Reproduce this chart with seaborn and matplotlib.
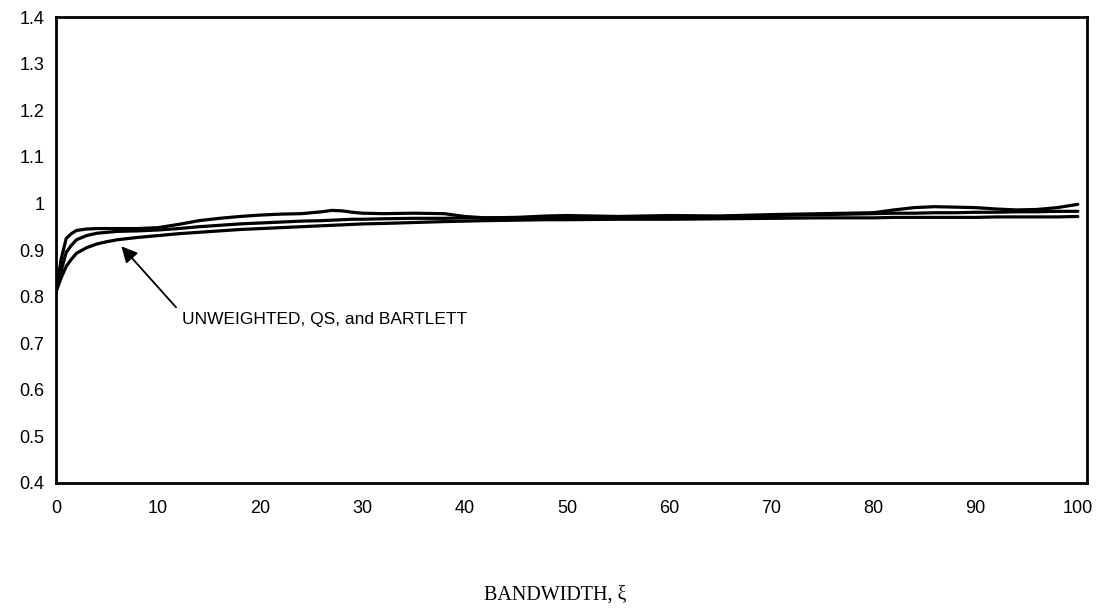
import matplotlib
matplotlib.use("Agg")
import matplotlib.pyplot as plt
from matplotlib.ticker import MultipleLocator
import seaborn as sns
import pandas as pd

bandwidth = [0, 0.5, 1, 1.5, 2, 3, 4, 5, 6, 8, 10, 12, 14, 16, 18, 20, 22, 24, 26, 27,
             28, 29, 30, 32, 35, 38, 40, 42, 45, 48, 50, 55, 60, 65, 70, 75, 80, 82, 84,
             86, 88, 90, 92, 94, 96, 98, 100]

unweighted = [0.81, 0.88, 0.925, 0.935, 0.942, 0.945, 0.946, 0.946, 0.946, 0.946, 0.948,
              0.955, 0.963, 0.968, 0.972, 0.975, 0.977, 0.978, 0.982, 0.985, 0.984, 0.981,
              0.979, 0.978, 0.979, 0.978, 0.972, 0.969, 0.970, 0.973, 0.974, 0.972, 0.974,
              0.973, 0.976, 0.978, 0.980, 0.986, 0.991, 0.993, 0.992, 0.991, 0.988, 0.986,
              0.987, 0.991, 0.998]

qs = [0.81, 0.855, 0.895, 0.91, 0.922, 0.931, 0.936, 0.938, 0.94, 0.941, 0.943, 0.946,
      0.95, 0.953, 0.956, 0.958, 0.96, 0.962, 0.963, 0.964, 0.965, 0.966, 0.966, 0.967,
      0.968, 0.968, 0.969, 0.969, 0.969, 0.97, 0.97, 0.971, 0.971, 0.972, 0.974, 0.976,
      0.978, 0.979, 0.979, 0.98, 0.98, 0.981, 0.981, 0.982, 0.982, 0.983, 0.983]

bartlett = [0.81, 0.84, 0.865, 0.88, 0.893, 0.905, 0.913, 0.918, 0.922, 0.927, 0.931,
            0.935, 0.938, 0.941, 0.944, 0.946, 0.948, 0.95, 0.952, 0.953, 0.954, 0.955,
            0.956, 0.957, 0.959, 0.961, 0.962, 0.963, 0.964, 0.965, 0.965, 0.966, 0.966,
            0.967, 0.968, 0.969, 0.969, 0.97, 0.97, 0.97, 0.97, 0.97, 0.971, 0.971, 0.971,
            0.971, 0.972]

series_names = ["UNWEIGHTED", "QS", "BARTLETT"]
y_ticks = [0.4, 0.5, 0.6, 0.7, 0.8, 0.9, 1.0, 1.1, 1.2, 1.3, 1.4]
y_tick_labels = ["0.4", "0.5", "0.6", "0.7", "0.8", "0.9", "1", "1.1", "1.2", "1.3", "1.4"]
x_ticks = [0, 10, 20, 30, 40, 50, 60, 70, 80, 90, 100]
annotation_text = "UNWEIGHTED, QS, and BARTLETT"
x_label = "BANDWIDTH, ξ"

frames = []
for name, vals in zip(series_names, [unweighted, qs, bartlett]):
    frames.append(pd.DataFrame({"bandwidth": bandwidth, "value": vals, "method": name}))
df = pd.concat(frames, ignore_index=True)

sns.set_theme(style="white")
plt.rcParams["font.family"] = ["Liberation Sans", "DejaVu Sans"]

fig = plt.figure(figsize=(10.98, 6.08), dpi=100)
ax = fig.add_axes([0.051, 0.2056, 0.939, 0.7664])

sns.lineplot(data=df, x="bandwidth", y="value", hue="method",
             palette=["black", "black", "black"], linewidth=2.3,
             legend=False, ax=ax, sort=False)

ax.set_xlim(0, 100.9)
ax.set_ylim(0.4, 1.4)
ax.set_xticks(x_ticks)
ax.xaxis.set_minor_locator(MultipleLocator(5))
ax.set_yticks(y_ticks)
ax.set_yticklabels(y_tick_labels)
ax.tick_params(axis="both", which="both", direction="inout", length=9, width=1.2,
               color="black", labelsize=13, labelcolor="black")
ax.tick_params(axis="x", which="major", pad=8)
ax.tick_params(axis="y", which="major", pad=4)
ax.tick_params(axis="x", which="minor", length=9)
for side in ["left", "bottom", "top", "right"]:
    ax.spines[side].set_visible(True)
    ax.spines[side].set_color("black")
    ax.spines[side].set_linewidth(2.0)

ax.set_xlabel("")
ax.set_ylabel("")

ax.text(12.3, 0.751, annotation_text, fontsize=12.5, color="black",
        va="center", ha="left")
ax.annotate("", xy=(6.4, 0.908), xytext=(11.75, 0.777),
            arrowprops=dict(arrowstyle="-|>", color="black", lw=1.3,
                            mutation_scale=24, shrinkA=0, shrinkB=0))

fig.text(0.506, 0.022, x_label, ha="center", va="center", fontsize=14.5,
         family=["Liberation Serif", "DejaVu Serif"], color="black")

fig.savefig("out.png", dpi=100, facecolor="white")
